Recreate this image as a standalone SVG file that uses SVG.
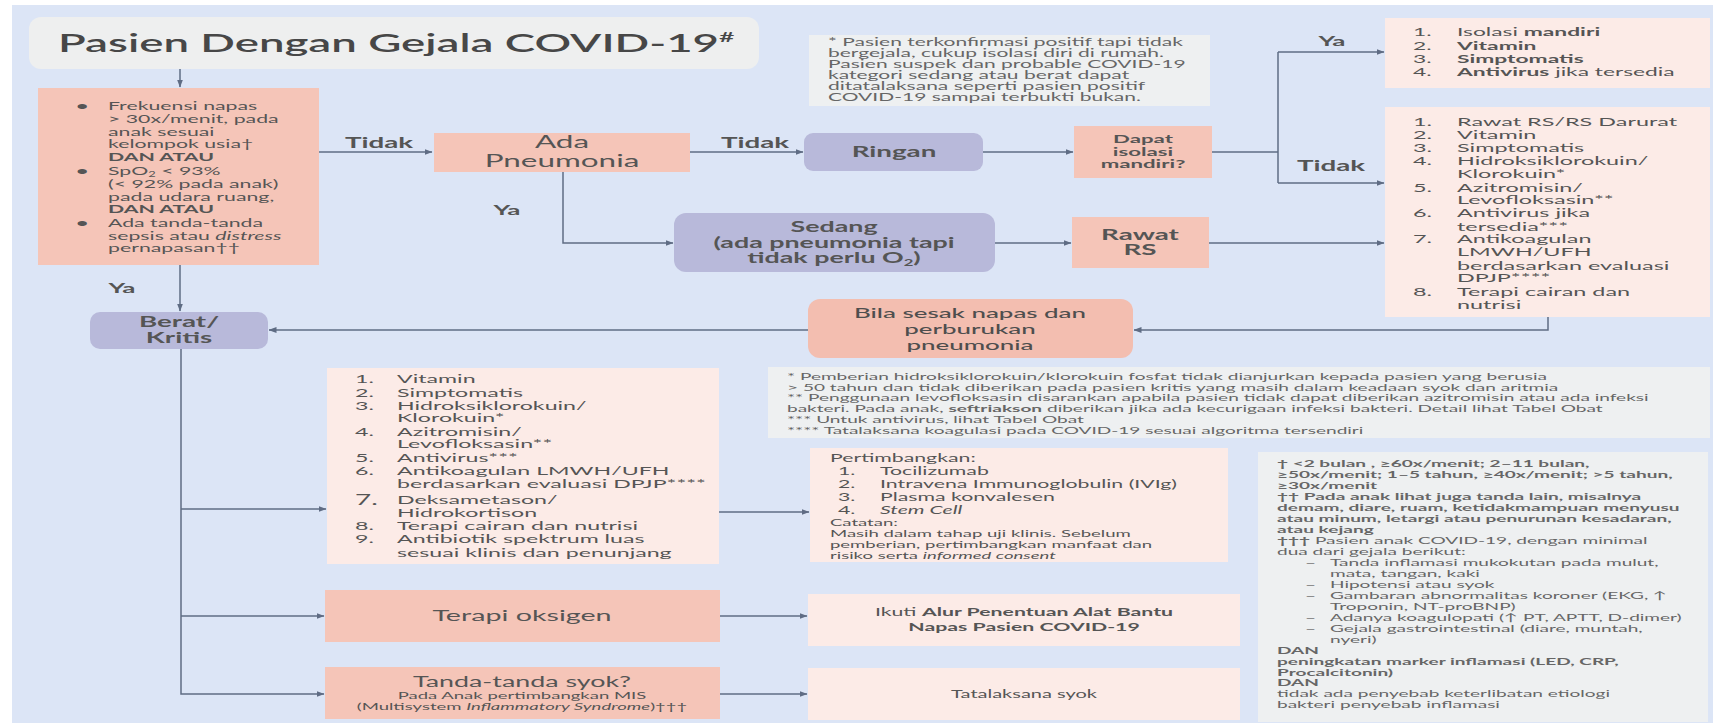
<svg xmlns="http://www.w3.org/2000/svg" width="1713" height="726" viewBox="0 0 1713 726">
<style>
.bg{fill:#dce5f6}
.sal{fill:#f5c5b8}
.sal2{fill:#f3beb0}
.lav{fill:#b8b9da}
.pk{fill:#fcebe7}
.gr{fill:#eef0f1}
.ln{fill:none;stroke:#5f6c84;stroke-width:1.5}
text{font-family:Lato,"Open Sans","Liberation Sans",sans-serif;fill:#555}
.b{font-weight:700}
.i{font-style:italic}
.fn{font-size:10.3px;fill:#666}
.t11{font-size:11.5px}
.t12{font-size:12px}
.lbl{font-weight:700;fill:#555}
</style>
<defs>
<marker id="ah" markerWidth="8" markerHeight="6" refX="7.5" refY="3" orient="auto" markerUnits="userSpaceOnUse"><path d="M0,0 L8,3 L0,6 z" fill="#5f6c84"/></marker>
</defs>
<rect x="0" y="0" width="1713" height="726" fill="#ffffff"/>
<rect class="bg" x="12" y="5" width="1701" height="718"/>

<g id="title">
<rect x="29" y="17" width="730" height="52" rx="12" fill="#eeefef"/>
<text transform="translate(58 0) scale(1.9 1)" x="0" y="52" font-size="24" font-weight="600" style="fill:#474747">Pasien Dengan Gejala COVID-19<tspan font-size="14" dy="-10">#</tspan></text>
</g>

<g id="note-top">
<rect class="gr" x="809" y="35" width="401" height="71"/>
<text font-size="10.5" style="fill:#666" transform="translate(828 0) scale(2 1)">
<tspan x="0" y="46.5">* Pasien terkonfirmasi positif tapi tidak</tspan>
<tspan x="0" y="57.5">bergejala, cukup isolasi diri di rumah.</tspan>
<tspan x="0" y="68.5">Pasien suspek dan probable  COVID-19</tspan>
<tspan x="0" y="79.5">kategori sedang atau berat dapat</tspan>
<tspan x="0" y="90.5">ditatalaksana seperti pasien positif</tspan>
<tspan x="0" y="101.5">COVID-19 sampai terbukti bukan.</tspan>
</text>
</g>

<g id="criteria">
<rect class="sal" x="38" y="88" width="281" height="177"/>
<text class="t11 b" transform="translate(76 0) scale(1.85 1)"><tspan x="0" y="110">•</tspan><tspan x="0" y="175">•</tspan><tspan x="0" y="227">•</tspan></text>
<text class="t11" transform="translate(108 0) scale(1.85 1)">
<tspan x="0" y="110">Frekuensi napas</tspan>
<tspan x="0" y="123">&gt; 30x/menit, pada</tspan>
<tspan x="0" y="136">anak sesuai</tspan>
<tspan x="0" y="148">kelompok usia†</tspan>
<tspan x="0" y="161" class="b">DAN ATAU</tspan>
<tspan x="0" y="175">SpO<tspan font-size="7" dy="2.5">2</tspan><tspan dy="-2.5"> &lt; 93%</tspan></tspan>
<tspan x="0" y="188">(&lt; 92% pada anak)</tspan>
<tspan x="0" y="201">pada udara ruang,</tspan>
<tspan x="0" y="213" class="b">DAN ATAU</tspan>
<tspan x="0" y="227">Ada tanda-tanda</tspan>
<tspan x="0" y="240">sepsis atau <tspan class="i">distress</tspan></tspan>
<tspan x="0" y="252">pernapasan††</tspan>
</text>
</g>

<g id="ada-pneumonia">
<rect class="sal" x="434" y="133" width="256" height="39"/>
<text transform="translate(562 0) scale(1.85 1)" text-anchor="middle" font-size="17"><tspan x="0" y="148">Ada</tspan><tspan x="0" y="167">Pneumonia</tspan></text>
</g>

<g id="ringan">
<rect class="lav" x="804" y="133" width="179" height="38" rx="9"/>
<text class="b" transform="translate(894 0) scale(1.85 1)" text-anchor="middle" font-size="15" x="0" y="157">Ringan</text>
</g>

<g id="dapat-isolasi">
<rect class="sal" x="1074" y="126" width="138" height="52"/>
<text class="b" transform="translate(1143 0) scale(1.85 1)" text-anchor="middle" font-size="12"><tspan x="0" y="143">Dapat</tspan><tspan x="0" y="156">isolasi</tspan><tspan x="0" y="168">mandiri?</tspan></text>
</g>

<g id="sedang">
<rect class="lav" x="674" y="213" width="321" height="59" rx="12"/>
<text class="b" transform="translate(834 0) scale(1.85 1)" text-anchor="middle" font-size="14.5"><tspan x="0" y="232">Sedang</tspan><tspan x="0" y="248">(ada pneumonia tapi</tspan><tspan x="0" y="263">tidak perlu O<tspan font-size="9" dy="3">2</tspan><tspan dy="-3">)</tspan></tspan></text>
</g>

<g id="rawat-rs">
<rect class="sal" x="1072" y="217" width="137" height="51"/>
<text class="b" transform="translate(1140 0) scale(1.85 1)" text-anchor="middle" font-size="15"><tspan x="0" y="240">Rawat</tspan><tspan x="0" y="255">RS</tspan></text>
</g>

<g id="isolasi-list">
<rect class="pk" x="1385" y="18" width="325" height="70"/>
<text class="t12" transform="translate(1413 0) scale(1.9 1)"><tspan x="0" y="36">1.</tspan><tspan x="0" y="50">2.</tspan><tspan x="0" y="63">3.</tspan><tspan x="0" y="76">4.</tspan></text>
<text class="t12" transform="translate(1457 0) scale(1.9 1)">
<tspan x="0" y="36">Isolasi <tspan class="b">mandiri</tspan></tspan>
<tspan x="0" y="50" class="b">Vitamin</tspan>
<tspan x="0" y="63" class="b">Simptomatis</tspan>
<tspan x="0" y="76"><tspan class="b">Antivirus</tspan> jika tersedia</tspan>
</text>
</g>

<g id="rawat-list">
<rect class="pk" x="1385" y="107" width="325" height="210"/>
<text class="t12" transform="translate(1413 0) scale(1.95 1)"><tspan x="0" y="126">1.</tspan><tspan x="0" y="139">2.</tspan><tspan x="0" y="152">3.</tspan><tspan x="0" y="165">4.</tspan><tspan x="0" y="192">5.</tspan><tspan x="0" y="217">6.</tspan><tspan x="0" y="243">7.</tspan><tspan x="0" y="296">8.</tspan></text>
<text class="t12" transform="translate(1457 0) scale(1.95 1)">
<tspan x="0" y="126">Rawat RS/RS Darurat</tspan>
<tspan x="0" y="139">Vitamin</tspan>
<tspan x="0" y="152">Simptomatis</tspan>
<tspan x="0" y="165">Hidroksiklorokuin/</tspan>
<tspan x="0" y="178">Klorokuin*</tspan>
<tspan x="0" y="192">Azitromisin/</tspan>
<tspan x="0" y="204">Levofloksasin**</tspan>
<tspan x="0" y="217">Antivirus jika</tspan>
<tspan x="0" y="231">tersedia***</tspan>
<tspan x="0" y="243">Antikoagulan</tspan>
<tspan x="0" y="256">LMWH/UFH</tspan>
<tspan x="0" y="270">berdasarkan evaluasi</tspan>
<tspan x="0" y="282">DPJP****</tspan>
<tspan x="0" y="296">Terapi cairan dan</tspan>
<tspan x="0" y="309">nutrisi</tspan>
</text>
</g>

<g id="bila-sesak">
<rect class="sal2" x="808" y="299" width="325" height="59" rx="12"/>
<text transform="translate(970 0) scale(1.85 1)" text-anchor="middle" font-size="14" font-weight="500" style="fill:#4e4e4e"><tspan x="0" y="318">Bila sesak napas dan</tspan><tspan x="0" y="334">perburukan</tspan><tspan x="0" y="350">pneumonia</tspan></text>
</g>

<g id="berat-kritis">
<rect class="lav" x="90" y="312" width="178" height="37" rx="10"/>
<text class="b" transform="translate(179 0) scale(1.85 1)" text-anchor="middle" font-size="15"><tspan x="0" y="327">Berat/</tspan><tspan x="0" y="343">Kritis</tspan></text>
</g>

<g id="footnote-obat">
<rect class="gr" x="768" y="367" width="942" height="71"/>
<text class="fn" transform="translate(787 0) scale(1.85 1)">
<tspan x="0" y="380">*  Pemberian hidroksiklorokuin/klorokuin fosfat tidak dianjurkan kepada pasien yang berusia</tspan>
<tspan x="0" y="391">&gt; 50 tahun dan tidak diberikan pada pasien kritis yang masih dalam keadaan syok dan aritmia</tspan>
<tspan x="0" y="401">**  Penggunaan levofloksasin disarankan apabila pasien tidak dapat diberikan azitromisin atau ada infeksi</tspan>
<tspan x="0" y="412">bakteri. Pada anak, <tspan class="b">seftriakson</tspan> diberikan jika ada kecurigaan infeksi bakteri. Detail lihat Tabel Obat</tspan>
<tspan x="0" y="423">***  Untuk antivirus, lihat Tabel Obat</tspan>
<tspan x="0" y="434">****  Tatalaksana koagulasi pada COVID-19 sesuai algoritma tersendiri</tspan>
</text>
</g>

<g id="terapi-list">
<rect class="pk" x="327" y="368" width="392" height="196"/>
<text class="t12" transform="translate(355 0) scale(1.93 1)"><tspan x="0" y="383">1.</tspan><tspan x="0" y="397">2.</tspan><tspan x="0" y="410">3.</tspan><tspan x="0" y="436">4.</tspan><tspan x="0" y="462">5.</tspan><tspan x="0" y="475">6.</tspan><tspan x="0" y="505" font-size="14.5">7.</tspan><tspan x="0" y="530">8.</tspan><tspan x="0" y="543">9.</tspan></text>
<text class="t12" transform="translate(397 0) scale(1.93 1)">
<tspan x="0" y="383">Vitamin</tspan>
<tspan x="0" y="397">Simptomatis</tspan>
<tspan x="0" y="410">Hidroksiklorokuin/</tspan>
<tspan x="0" y="422">Klorokuin*</tspan>
<tspan x="0" y="436">Azitromisin/</tspan>
<tspan x="0" y="448">Levofloksasin**</tspan>
<tspan x="0" y="462">Antivirus***</tspan>
<tspan x="0" y="475">Antikoagulan LMWH/UFH</tspan>
<tspan x="0" y="488">berdasarkan evaluasi DPJP****</tspan>
<tspan x="0" y="504">Deksametason/</tspan>
<tspan x="0" y="517">Hidrokortison</tspan>
<tspan x="0" y="530">Terapi cairan dan nutrisi</tspan>
<tspan x="0" y="543">Antibiotik spektrum luas</tspan>
<tspan x="0" y="557">sesuai klinis dan penunjang</tspan>
</text>
</g>

<g id="pertimbangkan">
<rect class="pk" x="810" y="448" width="418" height="114"/>
<text class="t11" transform="translate(830 0) scale(1.85 1)" x="0" y="462">Pertimbangkan:</text>
<text class="t11" transform="translate(838 0) scale(1.85 1)"><tspan x="0" y="475">1.</tspan><tspan x="0" y="488">2.</tspan><tspan x="0" y="501">3.</tspan><tspan x="0" y="514">4.</tspan></text>
<text class="t11" transform="translate(880 0) scale(1.85 1)">
<tspan x="0" y="475">Tocilizumab</tspan>
<tspan x="0" y="488">Intravena Immunoglobulin (IVIg)</tspan>
<tspan x="0" y="501">Plasma konvalesen</tspan>
<tspan x="0" y="514" class="i">Stem Cell</tspan>
</text>
<text font-size="10" transform="translate(830 0) scale(1.85 1)">
<tspan x="0" y="526">Catatan:</tspan>
<tspan x="0" y="537">Masih dalam tahap uji klinis. Sebelum</tspan>
<tspan x="0" y="548">pemberian, pertimbangkan manfaat dan</tspan>
<tspan x="0" y="559">risiko serta  <tspan class="i">informed consent</tspan></tspan>
</text>
</g>

<g id="footnote-anak">
<rect class="gr" x="1258" y="452" width="450" height="270"/>
<text class="fn" transform="translate(1277 0) scale(1.85 1)">
<tspan x="0" y="467.5" class="b">†  &lt;2 bulan , ≥60x/menit; 2–11 bulan,</tspan>
<tspan x="0" y="478.5" class="b">≥50x/menit; 1–5 tahun, ≥40x/menit; &gt;5 tahun,</tspan>
<tspan x="0" y="489.4" class="b">≥30x/menit</tspan>
<tspan x="0" y="500.4" class="b">††  Pada anak lihat juga tanda lain, misalnya</tspan>
<tspan x="0" y="511.3" class="b">demam, diare, ruam, ketidakmampuan menyusu</tspan>
<tspan x="0" y="522.3" class="b">atau minum, letargi atau penurunan kesadaran,</tspan>
<tspan x="0" y="533.2" class="b">atau kejang</tspan>
<tspan x="0" y="544.2"><tspan class="b">†††</tspan> Pasien anak COVID-19, dengan minimal</tspan>
<tspan x="0" y="555.1">dua dari gejala berikut:</tspan>
<tspan x="0" y="653.7" class="b">DAN</tspan>
<tspan x="0" y="664.6" class="b">peningkatan marker inflamasi (LED, CRP,</tspan>
<tspan x="0" y="675.6" class="b">Procalcitonin)</tspan>
<tspan x="0" y="686.5" class="b">DAN</tspan>
<tspan x="0" y="697.5">tidak ada penyebab keterlibatan etiologi</tspan>
<tspan x="0" y="708.4">bakteri penyebab inflamasi</tspan>
</text>
<text class="fn" transform="translate(1305 0) scale(1.85 1)"><tspan x="0" y="566.1">–</tspan><tspan x="0" y="588">–</tspan><tspan x="0" y="598.9">–</tspan><tspan x="0" y="620.8">–</tspan><tspan x="0" y="631.8">–</tspan></text>
<text class="fn" transform="translate(1330 0) scale(1.85 1)">
<tspan x="0" y="566.1">Tanda inflamasi mukokutan pada mulut,</tspan>
<tspan x="0" y="577">mata, tangan, kaki</tspan>
<tspan x="0" y="588">Hipotensi atau syok</tspan>
<tspan x="0" y="598.9">Gambaran abnormalitas koroner (EKG, ↑</tspan>
<tspan x="0" y="609.9">Troponin, NT-proBNP)</tspan>
<tspan x="0" y="620.8">Adanya koagulopati (↑ PT, APTT, D-dimer)</tspan>
<tspan x="0" y="631.8">Gejala gastrointestinal (diare, muntah,</tspan>
<tspan x="0" y="642.7">nyeri)</tspan>
</text>
</g>

<g id="terapi-oksigen">
<rect class="sal" x="325" y="590" width="395" height="52"/>
<text transform="translate(522 0) scale(1.85 1)" text-anchor="middle" font-size="15.5" x="0" y="621">Terapi oksigen</text>
</g>

<g id="ikuti-alur">
<rect class="pk" x="808" y="594" width="432" height="52"/>
<text transform="translate(1024 0) scale(1.85 1)" text-anchor="middle" font-size="11.5"><tspan x="0" y="616">Ikuti <tspan class="b">Alur Penentuan Alat Bantu</tspan></tspan><tspan x="0" y="631" class="b">Napas Pasien COVID-19</tspan></text>
</g>

<g id="tanda-syok">
<rect class="sal" x="325" y="667" width="395" height="52"/>
<text transform="translate(522 0) scale(1.85 1)" text-anchor="middle"><tspan x="0" y="687" font-size="14.5">Tanda-tanda syok?</tspan><tspan x="0" y="699" font-size="10">Pada Anak pertimbangkan MIS</tspan><tspan x="0" y="710" font-size="10">(Multisystem <tspan class="i">Inflammatory Syndrome</tspan>)†††</tspan></text>
</g>

<g id="tatalaksana-syok">
<rect class="pk" x="808" y="668" width="432" height="52"/>
<text transform="translate(1024 0) scale(1.85 1)" text-anchor="middle" font-size="10.8" x="0" y="698">Tatalaksana syok</text>
</g>

<g id="connectors">
<path class="ln" d="M180,69 V87" marker-end="url(#ah)"/>
<path class="ln" d="M319,152 H432" marker-end="url(#ah)"/>
<path class="ln" d="M690,152 H803" marker-end="url(#ah)"/>
<path class="ln" d="M983,152 H1073" marker-end="url(#ah)"/>
<path class="ln" d="M1212,152 H1278"/>
<path class="ln" d="M1278,52 V183"/>
<path class="ln" d="M1278,52 H1384" marker-end="url(#ah)"/>
<path class="ln" d="M1278,183 H1384" marker-end="url(#ah)"/>
<path class="ln" d="M563,172 V243 H673" marker-end="url(#ah)"/>
<path class="ln" d="M995,243 H1071" marker-end="url(#ah)"/>
<path class="ln" d="M1209,243 H1384" marker-end="url(#ah)"/>
<path class="ln" d="M1548,317 V330 H1134" marker-end="url(#ah)"/>
<path class="ln" d="M808,330 H269" marker-end="url(#ah)"/>
<path class="ln" d="M180,265 V311" marker-end="url(#ah)"/>
<path class="ln" d="M181,349 V694 H324" marker-end="url(#ah)"/>
<path class="ln" d="M181,509 H326" marker-end="url(#ah)"/>
<path class="ln" d="M181,616 H324" marker-end="url(#ah)"/>
<path class="ln" d="M719,512 H809" marker-end="url(#ah)"/>
<path class="ln" d="M720,616 H807" marker-end="url(#ah)"/>
<path class="ln" d="M720,694 H807" marker-end="url(#ah)"/>
<text class="lbl" transform="translate(379 0) scale(1.85 1)" text-anchor="middle" font-size="15" x="0" y="148">Tidak</text>
<text class="lbl" transform="translate(755 0) scale(1.85 1)" text-anchor="middle" font-size="15" x="0" y="148">Tidak</text>
<text class="lbl" transform="translate(1332 0) scale(1.85 1)" text-anchor="middle" font-size="14" x="0" y="46">Ya</text>
<text class="lbl" transform="translate(1331 0) scale(1.85 1)" text-anchor="middle" font-size="15" x="0" y="171">Tidak</text>
<text class="lbl" transform="translate(507 0) scale(1.85 1)" text-anchor="middle" font-size="14" x="0" y="215">Ya</text>
<text class="lbl" transform="translate(122 0) scale(1.85 1)" text-anchor="middle" font-size="14" x="0" y="293">Ya</text>
</g>
</svg>
